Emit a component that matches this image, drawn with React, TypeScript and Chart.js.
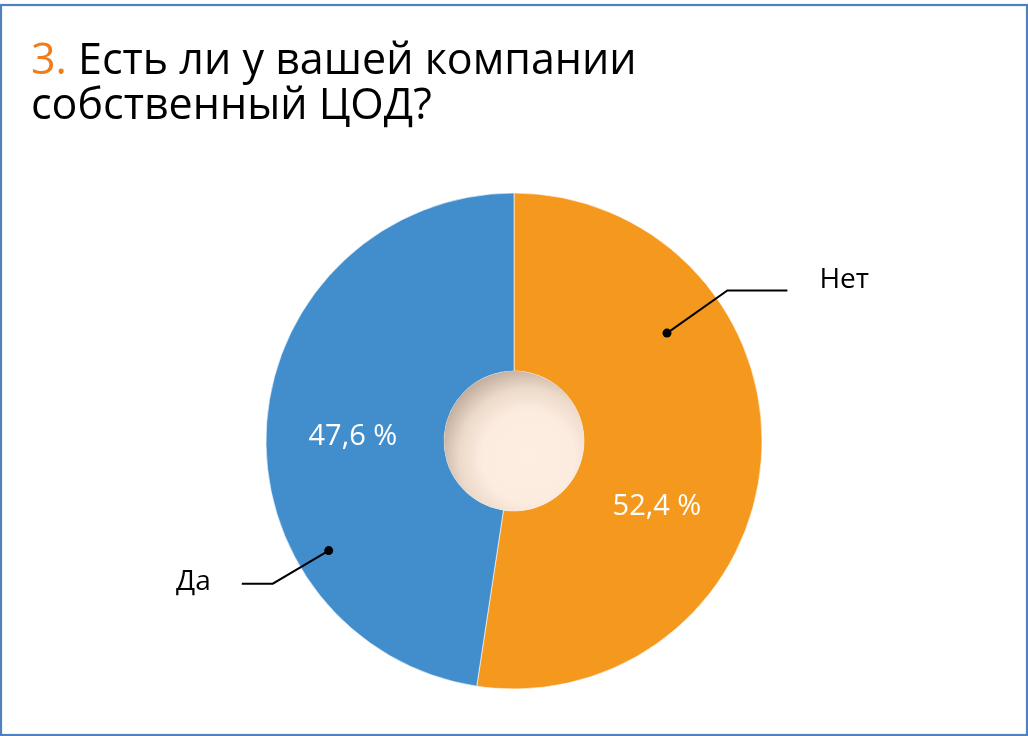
import React, { useEffect, useRef } from "react";
import { Chart, registerables } from "chart.js";

Chart.register(...registerables);

// Survey answers
const answers = ["Нет", "Да"];
const shares = [52.4, 47.6];
const sliceColors = ["#f4981e", "#428ecc"];

const titleNumber = "3.";
const titleLines = ["Есть ли у вашей компании", "собственный ЦОД?"];

const FONT = '"Open Sans", "Noto Sans", sans-serif';

const fmtPercent = (v: number) => v.toFixed(1).replace(".", ",") + " %";

// Placement of callouts, in degrees clockwise from 12 o'clock and fractions of the outer radius
const calloutLayout = [
  { dotAngle: 54.8, dotR: 0.755, elbowR: 1.053, tail: 60, gap: 32, side: 1, dy: -10 },
  { dotAngle: 239.4, dotR: 0.868, elbowR: 1.13, tail: -31, gap: 31, side: -1, dy: -2 },
];
const valueLayout = [
  { angle: 114.8, r: 0.635 },
  { angle: 271.4, r: 0.65 },
];

const polar = (cx: number, cy: number, deg: number, r: number) => {
  const a = ((deg - 90) * Math.PI) / 180;
  return { x: cx + r * Math.cos(a), y: cy + r * Math.sin(a) };
};

const framePlugin = {
  id: "frame",
  beforeDraw(chart: any) {
    const ctx = chart.ctx;
    ctx.save();
    ctx.fillStyle = "#ffffff";
    ctx.fillRect(0, 0, chart.width, chart.height);
    ctx.strokeStyle = "#4f81bd";
    ctx.lineWidth = 2.2;
    ctx.strokeRect(1, 5, chart.width - 2, chart.height - 6);

    // heading
    ctx.textBaseline = "alphabetic";
    ctx.textAlign = "left";
    ctx.font = `43px ${FONT}`;
    ctx.fillStyle = "#ef7d1b";
    ctx.fillText(titleNumber, 31, 74);
    const w = ctx.measureText(titleNumber + " ").width;
    ctx.fillStyle = "#000000";
    ctx.fillText(titleLines[0], 31 + w, 74);
    ctx.fillText(titleLines[1], 31, 119);
    ctx.restore();
  },
};

const decorPlugin = {
  id: "decor",
  afterDatasetsDraw(chart: any) {
    const ctx = chart.ctx;
    const arcs = chart.getDatasetMeta(0).data;
    if (!arcs.length) return;
    const { x: cx, y: cy, outerRadius: R, innerRadius: r } = arcs[0];

    // hub
    ctx.save();
    const g = ctx.createRadialGradient(cx + 14, cy + 16, 0, cx + 14, cy + 16, 92);
    g.addColorStop(0, "#fdeee1");
    g.addColorStop(0.5, "#fcece0");
    g.addColorStop(0.75, "#ecd9c9");
    g.addColorStop(1, "#bfab9b");
    ctx.fillStyle = g;
    ctx.beginPath();
    ctx.arc(cx, cy, r, 0, Math.PI * 2);
    ctx.fill();

    // values inside slices
    ctx.fillStyle = "#ffffff";
    ctx.font = `29px ${FONT}`;
    ctx.textAlign = "center";
    ctx.textBaseline = "middle";
    shares.forEach((v, i) => {
      const p = polar(cx, cy, valueLayout[i].angle, valueLayout[i].r * R);
      ctx.fillText(fmtPercent(v), p.x, p.y);
    });

    // callouts with category names
    ctx.strokeStyle = "#000000";
    ctx.fillStyle = "#000000";
    ctx.lineWidth = 2;
    ctx.font = `28px ${FONT}`;
    answers.forEach((name, i) => {
      const c = calloutLayout[i];
      const d = polar(cx, cy, c.dotAngle, c.dotR * R);
      const e = polar(cx, cy, c.dotAngle, c.elbowR * R);
      const endX = e.x + c.tail;
      ctx.beginPath();
      ctx.moveTo(d.x, d.y);
      ctx.lineTo(e.x, e.y);
      ctx.lineTo(endX, e.y);
      ctx.stroke();
      ctx.beginPath();
      ctx.arc(d.x, d.y, 4.5, 0, Math.PI * 2);
      ctx.fill();
      ctx.textAlign = c.side > 0 ? "left" : "right";
      ctx.fillText(name, endX + c.side * c.gap, e.y + c.dy);
    });
    ctx.restore();
  },
};

export default function App() {
  const ref = useRef<HTMLCanvasElement>(null);

  useEffect(() => {
    if (!ref.current) return;
    const chart = new Chart(ref.current, {
      type: "doughnut",
      data: {
        labels: answers,
        datasets: [
          {
            data: shares,
            backgroundColor: sliceColors,
            borderColor: "rgba(255,255,255,0.6)",
            borderWidth: 1,
          },
        ],
      },
      options: {
        animation: false,
        responsive: false,
        radius: 248,
        cutout: "28.2%",
        layout: { padding: { left: 266, right: 266, top: 193, bottom: 47 } },
        plugins: {
          legend: { display: false },
          tooltip: { enabled: false },
          title: { display: false },
        },
      },
      plugins: [framePlugin, decorPlugin],
    });
    return () => chart.destroy();
  }, []);

  return (
    <div style={{ position: "fixed", left: 0, top: 0, width: 1028, height: 736 }}>
      <canvas ref={ref} width={1028} height={736} style={{ display: "block" }} />
    </div>
  );
}
